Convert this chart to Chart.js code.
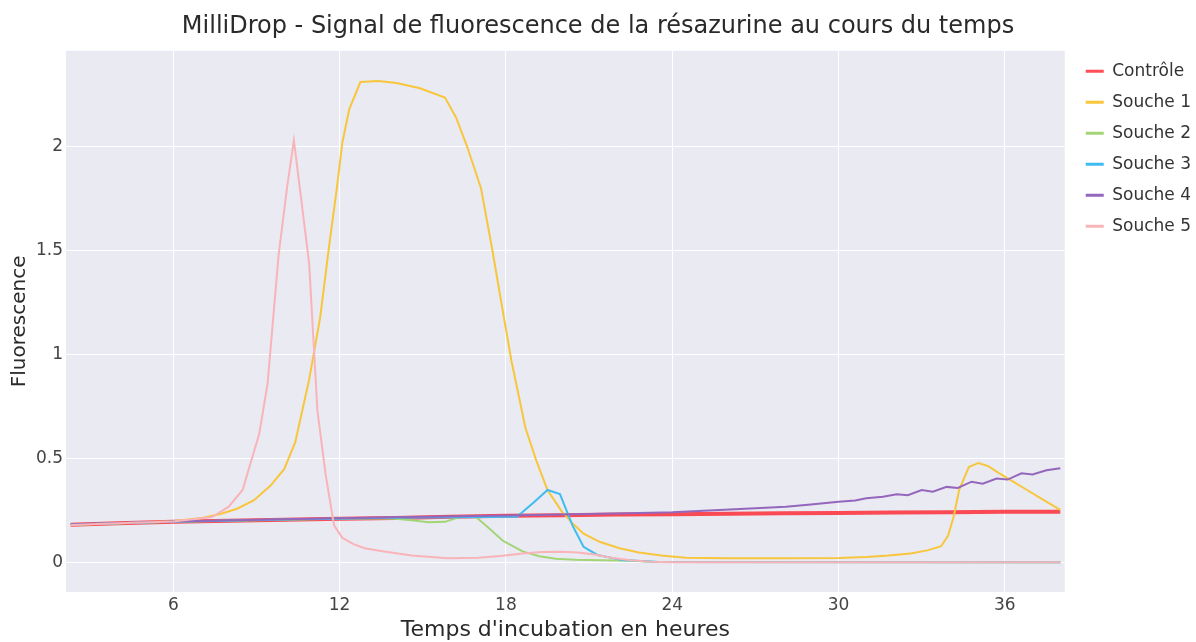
<!DOCTYPE html>
<html>
<head>
<meta charset="utf-8">
<title>MilliDrop</title>
<script src="https://cdn.jsdelivr.net/npm/chart.js@4"></script>
<style>
  html, body { margin: 0; padding: 0; background: #fff; }
  #wrap { width: 1196px; height: 642px; position: relative; }
</style>
</head>
<body>
<div id="wrap"><canvas id="mainChart"></canvas></div>
<script>
// heures / fluorescence
const controlHours = [2.3, 4, 6, 8, 10, 12, 14, 16, 18, 20, 22, 24, 26, 28, 30, 32, 34, 36, 38];
const controlValues = [0.183, 0.19, 0.197, 0.202, 0.207, 0.212, 0.216, 0.221, 0.226, 0.229, 0.232, 0.234, 0.236, 0.238, 0.24, 0.242, 0.243, 0.245, 0.246];

const s1Hours = [2.3, 4, 6, 7, 7.7, 8.3, 8.9, 9.5, 10, 10.4, 10.9, 11.3, 11.6, 11.9, 12.1, 12.35, 12.75, 13.4, 14.05, 14.9, 15.8, 16.2, 16.6, 17.1, 17.5, 17.9, 18.2, 18.7, 19.1, 19.5, 20.0, 20.4, 20.8, 21.4, 22.1, 22.8, 23.6, 24.5, 26, 28, 30, 31, 31.8, 32.6, 33.2, 33.7, 33.95, 34.15, 34.35, 34.7, 35.05, 35.4, 35.8, 36.3, 36.8, 37.3, 37.8, 38.0];
const s1Values = [0.183, 0.19, 0.2, 0.215, 0.235, 0.26, 0.3, 0.37, 0.45, 0.58, 0.88, 1.18, 1.5, 1.8, 2.02, 2.18, 2.31, 2.315, 2.305, 2.28, 2.235, 2.14, 2.0, 1.8, 1.51, 1.2, 0.97, 0.65, 0.49, 0.35, 0.25, 0.19, 0.14, 0.1, 0.07, 0.05, 0.035, 0.024, 0.022, 0.022, 0.023, 0.028, 0.035, 0.045, 0.06, 0.08, 0.13, 0.22, 0.35, 0.46, 0.48, 0.465, 0.43, 0.39, 0.35, 0.31, 0.27, 0.255];

const s2Hours = [2.3, 6, 10, 13, 14, 14.6, 15.2, 15.8, 16.1, 16.4, 16.9, 17.4, 17.9, 18.6, 19.2, 19.8, 20.5, 21.5, 22.5, 23.5, 38];
const s2Values = [0.183, 0.197, 0.207, 0.214, 0.212, 0.205, 0.195, 0.197, 0.21, 0.222, 0.223, 0.165, 0.105, 0.055, 0.032, 0.02, 0.015, 0.013, 0.01, 0.004, 0.003];

const s3Hours = [2.3, 6, 10, 14, 18.4, 19.0, 19.5, 19.95, 20.4, 20.8, 21.3, 22.2, 23.5, 38];
const s3Values = [0.184, 0.198, 0.208, 0.217, 0.222, 0.29, 0.35, 0.33, 0.18, 0.077, 0.038, 0.014, 0.004, 0.003];

const s4Hours = [2.3, 6, 10, 14, 18, 20, 22, 24, 25.7, 27, 28.1, 29, 30, 30.6, 31, 31.6, 32.1, 32.5, 33, 33.4, 33.9, 34.3, 34.8, 35.2, 35.7, 36.1, 36.6, 37.0, 37.5, 38.0];
const s4Values = [0.185, 0.199, 0.209, 0.219, 0.228, 0.232, 0.237, 0.243, 0.254, 0.262, 0.27, 0.28, 0.294, 0.3, 0.31, 0.318, 0.33, 0.325, 0.35, 0.342, 0.365, 0.36, 0.39, 0.38, 0.405, 0.4, 0.43, 0.425, 0.445, 0.455];

const s5Hours = [2.3, 4, 6, 7.4, 8.0, 8.5, 9.1, 9.4, 9.8, 10.1, 10.35, 10.9, 11.2, 11.5, 11.8, 12.1, 12.5, 12.9, 13.6, 14.6, 15.9, 17.0, 17.8, 18.6, 19.3, 20.0, 20.6, 21.2, 21.8, 22.5, 23.2, 24, 38];
const s5Values = [0.182, 0.19, 0.199, 0.22, 0.27, 0.35, 0.62, 0.86, 1.48, 1.8, 2.03, 1.44, 0.73, 0.42, 0.18, 0.12, 0.09, 0.07, 0.055, 0.035, 0.022, 0.024, 0.033, 0.045, 0.052, 0.053, 0.05, 0.04, 0.025, 0.012, 0.005, 0.003, 0.003];

const seriesNames = ['Contrôle', 'Souche 1', 'Souche 2', 'Souche 3', 'Souche 4', 'Souche 5'];
const xTicks = [6, 12, 18, 24, 30, 36];
const yTicks = [0, 0.5, 1, 1.5, 2];

function pts(hours, values) {
    return hours.map((h, i) => ({ x: h, y: values[i] }));
}

Chart.defaults.font.family = "'DejaVu Sans', Verdana, sans-serif";
Chart.defaults.color = '#444';

const plotBg = {
    id: 'plotBg',
    beforeDraw: (chart) => {
        const a = chart.chartArea;
        const ctx = chart.ctx;
        ctx.save();
        ctx.fillStyle = '#eaeaf2';
        ctx.fillRect(a.left, a.top, a.right - a.left, a.bottom - a.top);
        ctx.restore();
    }
};

// élargir la légende et la décaler un peu (marge comme plotly)
const legendNudge = {
    id: 'legendNudge',
    beforeLayout: (chart) => {
        const lg = chart.legend;
        if (lg && !lg._nudged) {
            const fit = lg.fit;
            lg.fit = function () { fit.call(this); this.width += 2; };
            lg._nudged = true;
        }
    },
    afterLayout: (chart) => {
        const lg = chart.legend;
        if (!lg) return;
        lg.left += 7; lg.right += 7;
        lg.top -= 2; lg.bottom -= 2;
    }
};

const ctx = document.getElementById('mainChart').getContext('2d');

new Chart(ctx, {
    type: 'line',
    data: {
        datasets: [
            { label: seriesNames[0], data: pts(controlHours, controlValues), borderColor: 'rgba(255, 20, 30, 0.75)', borderWidth: 4, order: 6 },
            { label: seriesNames[1], data: pts(s1Hours, s1Values), borderColor: '#f8c63c', borderWidth: 2, order: 5 },
            { label: seriesNames[2], data: pts(s2Hours, s2Values), borderColor: '#a3d577', borderWidth: 2, order: 4 },
            { label: seriesNames[3], data: pts(s3Hours, s3Values), borderColor: '#3fbdf0', borderWidth: 2, order: 3 },
            { label: seriesNames[4], data: pts(s4Hours, s4Values), borderColor: '#9467bd', borderWidth: 2, order: 2 },
            { label: seriesNames[5], data: pts(s5Hours, s5Values), borderColor: '#f8b4b8', borderWidth: 2, order: 1 }
        ]
    },
    options: {
        responsive: true,
        maintainAspectRatio: false,
        animation: false,
        elements: { point: { radius: 0 }, line: { tension: 0 } },
        plugins: {
            title: {
                display: true,
                text: 'MilliDrop - Signal de fluorescence de la résazurine au cours du temps',
                color: '#2a2a2a',
                font: { size: 24, weight: 'normal' },
                padding: { top: 12, bottom: 10 }
            },
            legend: {
                position: 'right',
                align: 'start',
                fullSize: false,
                labels: {
                    usePointStyle: true,
                    pointStyleWidth: 18,
                    padding: 14,
                    color: '#333',
                    font: { size: 17 },
                    sort: (a, b) => a.datasetIndex - b.datasetIndex,
                    generateLabels: (chart) => {
                        const items = Chart.defaults.plugins.legend.labels.generateLabels(chart);
                        items.forEach(it => {
                            it.pointStyle = 'line';
                            it.lineWidth = 3;
                        });
                        return items;
                    }
                }
            },
            tooltip: { enabled: false }
        },
        scales: {
            x: {
                type: 'linear',
                min: 2.13,
                max: 38.16,
                grid: { color: '#ffffff', lineWidth: 1, drawTicks: false },
                border: { display: false },
                afterBuildTicks: (axis) => { axis.ticks = xTicks.map(v => ({ value: v })); },
                ticks: { font: { size: 17, lineHeight: 1 }, padding: 5, color: '#444' },
                title: { display: true, text: "Temps d'incubation en heures", font: { size: 22, lineHeight: 1 }, color: '#2a2a2a', padding: { top: 0, bottom: 1 } }
            },
            y: {
                min: -0.14,
                max: 2.46,
                grid: { color: '#ffffff', lineWidth: 1, drawTicks: false },
                border: { display: false },
                afterBuildTicks: (axis) => { axis.ticks = yTicks.map(v => ({ value: v })); },
                ticks: { font: { size: 17 }, padding: 3, color: '#444', callback: (v) => String(v) },
                title: { display: true, text: 'Fluorescence', font: { size: 20 }, color: '#2a2a2a', padding: { top: 8, bottom: 1 } }
            }
        }
    },
    plugins: [plotBg, legendNudge]
});
</script>
</body>
</html>
